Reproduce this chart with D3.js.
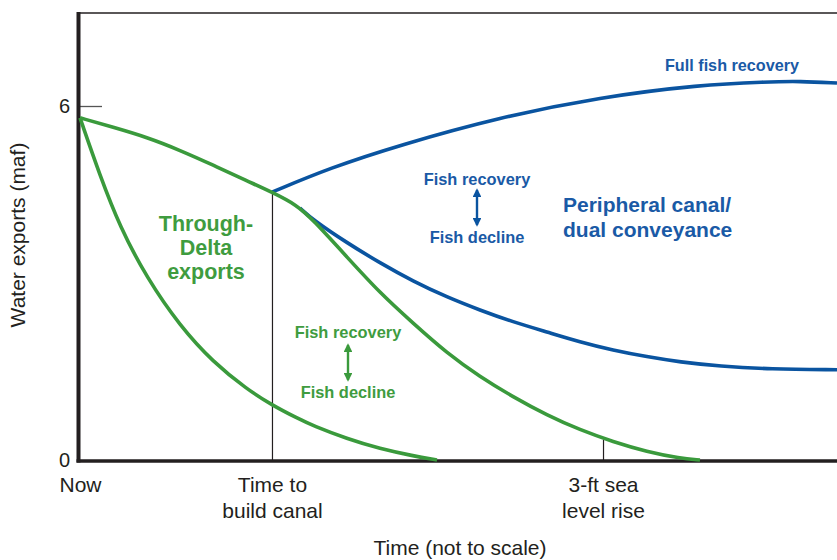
<!DOCTYPE html>
<html>
<head>
<meta charset="utf-8">
<script src="https://cdn.jsdelivr.net/npm/d3@7"></script>
<style>
  body { margin: 0; background: #fff; }
  svg { font-family: "Liberation Sans", Arial, Helvetica, sans-serif; }
</style>
</head>
<body>
<div id="chart"></div>
<script>
// time is "not to scale", so t runs 0..10 across the plot; values in maf
const throughDeltaHigh = [[0, 5.80], [0.436, 5.64], [0.885, 5.47], [1.321, 5.25], [1.757, 5.00], [2.206, 4.73],
    [2.536, 4.54], [2.867, 4.32], [3.078, 4.07], [3.527, 3.44], [3.963, 2.83], [4.399, 2.32], [4.848, 1.81],
    [5.284, 1.41], [5.72, 1.07], [6.169, 0.76], [6.605, 0.51], [7.041, 0.31], [7.49, 0.14], [7.926, 0.03], [8.19, 0]];
const throughDeltaLow = [[0, 5.80], [0.264, 4.82], [0.528, 3.95], [0.885, 3.08], [1.321, 2.27], [1.757, 1.66],
    [2.206, 1.20], [2.536, 0.93], [2.867, 0.71], [3.078, 0.58], [3.527, 0.36], [3.963, 0.19], [4.399, 0.07], [4.716, 0]];
const canalHigh = [[2.536, 4.54], [3.30, 4.95], [4.227, 5.34], [5.548, 5.81], [6.869, 6.15], [8.19, 6.36],
    [9.075, 6.41], [9.51, 6.42], [10, 6.39]];
const canalLow = [[2.906, 4.27], [3.078, 4.07], [3.527, 3.68], [3.963, 3.34], [4.399, 3.03], [4.848, 2.76],
    [5.284, 2.54], [5.72, 2.34], [6.169, 2.17], [6.605, 2.00], [7.041, 1.86], [7.49, 1.75], [7.926, 1.66],
    [8.45, 1.59], [9.11, 1.54], [10, 1.53]];

const xTicks = [0, 2.536, 6.909];
const xTickLabels = [["Now"], ["Time to", "build canal"], ["3-ft sea", "level rise"]];
const yTicks = [0, 6];

const green = "#3a9a3c", greenText = "#3f9c3f";
const blue = "#0a54a0", blueText = "#1a5aa6";

const width = 837, height = 560;
const svg = d3.select("#chart").append("svg")
    .attr("width", width)
    .attr("height", height);

const x = d3.scaleLinear().domain([0, 10]).range([80, 837]);
const y = d3.scaleLinear().domain([0, 6]).range([460, 106]);

svg.append("defs").selectAll("marker")
    .data([["ag", green], ["ab", blue]])
    .enter().append("marker")
    .attr("id", d => d[0])
    .attr("viewBox", "0 0 10 10")
    .attr("refX", 8).attr("refY", 5)
    .attr("markerWidth", 3.6).attr("markerHeight", 3.6)
    .attr("orient", "auto-start-reverse")
    .append("path")
    .attr("d", "M0,0L10,5L0,10Z")
    .attr("fill", d => d[1]);

// frame
svg.append("line")
    .attr("x1", 80).attr("x2", 837).attr("y1", 13).attr("y2", 13)
    .attr("stroke", "#231f20").attr("stroke-width", 1.4);

// y axis
const yAxis = d3.axisLeft(y).tickValues(yTicks).tickSizeInner(-22).tickSizeOuter(0).tickPadding(10)
    .tickFormat(d3.format("d"));
const gy = svg.append("g").attr("transform", "translate(80,0)").call(yAxis);
gy.select(".domain").remove();
gy.selectAll(".tick line").attr("stroke", "#555").attr("stroke-width", 1.3)
    .attr("display", d => d === 0 ? "none" : null);
gy.selectAll(".tick text").attr("font-size", "20px").attr("fill", "#231f20").attr("font-family", null);

// x axis
const xAxis = d3.axisBottom(x).tickValues(xTicks).tickSizeInner(-20).tickSizeOuter(0).tickFormat("");
const gx = svg.append("g").attr("transform", "translate(0,460)").call(xAxis);
gx.select(".domain").remove();
gx.selectAll(".tick line")
    .attr("stroke", "#231f20").attr("stroke-width", 1.2)
    .attr("y2", (d, i) => i === 0 ? 0 : (i === 1 ? y(4.54) - 460 : -20));
gx.selectAll(".tick").append("text")
    .attr("text-anchor", "middle")
    .attr("font-size", "21px")
    .attr("fill", "#231f20")
    .selectAll("tspan")
    .data((d, i) => xTickLabels[i])
    .enter().append("tspan")
    .attr("x", 0)
    .attr("y", (d, j) => 32 + j * 26)
    .text(d => d);

// axis lines
svg.append("line")
    .attr("x1", 78.5).attr("x2", 78.5).attr("y1", 12).attr("y2", 462.5)
    .attr("stroke", "#231f20").attr("stroke-width", 4);
svg.append("line")
    .attr("x1", 76.5).attr("x2", 837).attr("y1", 461).attr("y2", 461)
    .attr("stroke", "#231f20").attr("stroke-width", 3.5);

// axis titles
svg.append("text")
    .attr("x", 460).attr("y", 555)
    .attr("text-anchor", "middle")
    .attr("font-size", "21px").attr("fill", "#231f20")
    .text("Time (not to scale)");
svg.append("text")
    .attr("transform", "translate(25,235) rotate(-90)")
    .attr("text-anchor", "middle")
    .attr("font-size", "21px").attr("fill", "#231f20")
    .text("Water exports (maf)");

// curves (b-spline smooths out the reading noise)
const line = d3.line().x(d => x(d[0])).y(d => y(d[1])).curve(d3.curveBasis);
[[canalHigh, blue], [canalLow, blue], [throughDeltaLow, green], [throughDeltaHigh, green]].forEach(s => {
    svg.append("path")
        .attr("d", line(s[0]))
        .attr("fill", "none")
        .attr("stroke", s[1])
        .attr("stroke-width", 3.6);
});

// labels
function label(txt, lx, ly, size, color, anchor) {
    svg.append("text")
        .attr("x", lx).attr("y", ly)
        .attr("text-anchor", anchor || "middle")
        .attr("font-size", size + "px")
        .attr("font-weight", "bold")
        .attr("fill", color)
        .text(txt);
}
label("Through-", 206, 231, 21.5, greenText);
label("Delta", 206, 255, 21.5, greenText);
label("exports", 206, 279, 21.5, greenText);
label("Fish recovery", 348, 338, 16.4, greenText);
label("Fish decline", 348, 398, 16.4, greenText);
label("Fish recovery", 477, 185, 16.4, blueText);
label("Fish decline", 477, 243, 16.4, blueText);
label("Peripheral canal/", 563, 212, 21, blueText, "start");
label("dual conveyance", 563, 237, 21, blueText, "start");
label("Full fish recovery", 732, 71, 16.2, blueText);

// double arrows
[[348, 344, 381, green, "ag"], [477, 189, 226, blue, "ab"]].forEach(a => {
    svg.append("line")
        .attr("x1", a[0]).attr("x2", a[0]).attr("y1", a[1] + 1).attr("y2", a[2] - 1)
        .attr("stroke", a[3]).attr("stroke-width", 2.4)
        .attr("marker-start", "url(#" + a[4] + ")")
        .attr("marker-end", "url(#" + a[4] + ")");
});
</script>
</body>
</html>
